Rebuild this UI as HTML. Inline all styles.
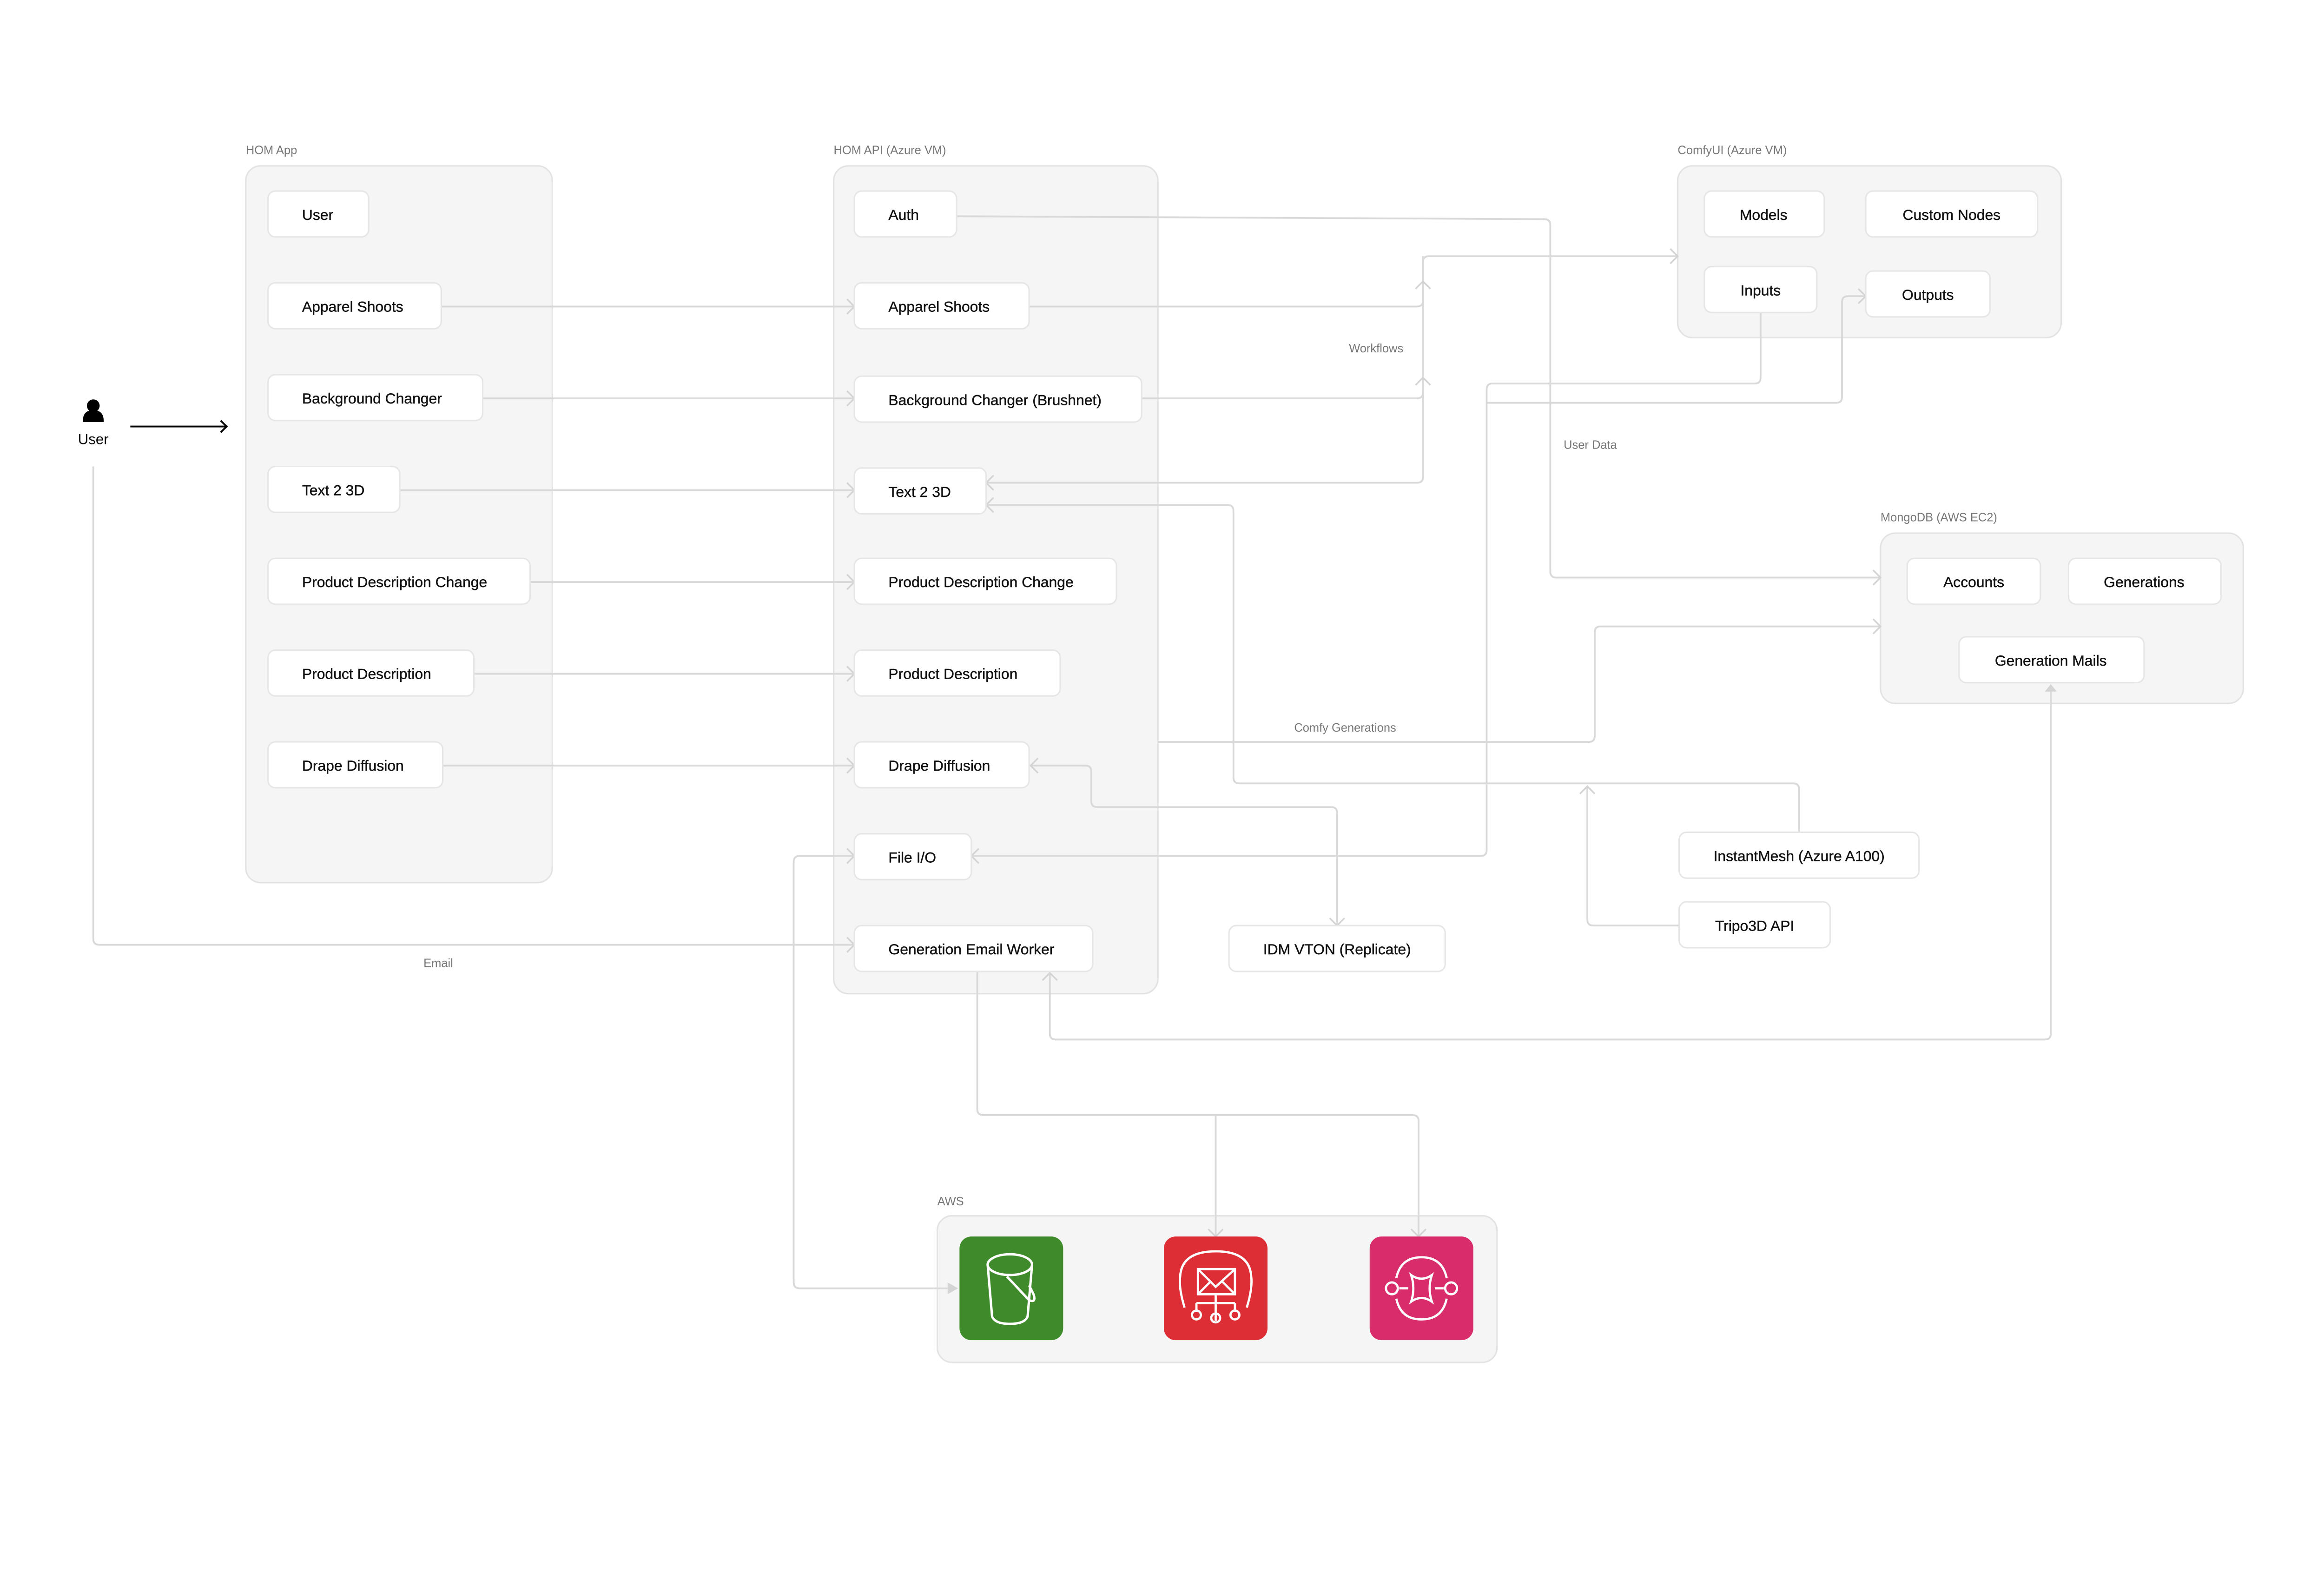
<!DOCTYPE html>
<html><head><meta charset="utf-8"><style>
html,body{margin:0;padding:0;background:#fff;overflow:hidden;width:5266px;height:3412px}
svg{display:block}
text{font-family:"Liberation Sans",sans-serif}
.g{fill:#f5f5f5;stroke:#e3e3e3;stroke-width:1}
.n{fill:#fff;stroke:#e6e6e6;stroke-width:1}
.t{font-size:10px;fill:#111;stroke:#111;stroke-width:0.15}
.l{font-size:8px;fill:#777}
.c{fill:none;stroke:#d9d9d9;stroke-width:1.2;stroke-linejoin:round}
.a{fill:none;stroke:#d4d4d4;stroke-width:1.1}
</style></head><body>
<svg width="5266" height="3412" viewBox="0 0 1653 1071" xmlns="http://www.w3.org/2000/svg">
<rect width="1653" height="1071" fill="#fff"/>

<text class="l" x="166" y="104">HOM App</text>
<rect class="g" x="166" y="112" width="207" height="484" rx="10"/>
<text class="l" x="563" y="104">HOM API (Azure VM)</text>
<rect class="g" x="563" y="112" width="219" height="559" rx="10"/>
<text class="l" x="1133" y="104">ComfyUI (Azure VM)</text>
<rect class="g" x="1133" y="112" width="259" height="116" rx="10"/>
<text class="l" x="1270" y="352">MongoDB (AWS EC2)</text>
<rect class="g" x="1270" y="360" width="245" height="115" rx="10"/>
<text class="l" x="633" y="814">AWS</text>
<rect class="g" x="633" y="821" width="378" height="99" rx="10"/>

<g class="c">
<path d="M298 207H577M326 269H577M270 331H577M358 393H577M320 455H577M299 517H577"/>
<path d="M646 146L1043 148Q1047 148 1047 152V386Q1047 390 1051 390H1270"/>
<path d="M695 207H957Q961 207 961 203V177Q961 173 965 173H1133"/>
<path d="M771 269H957Q961 269 961 265V173"/>
<path d="M961 265V322Q961 326 957 326H666"/>
<path d="M1189 211V255Q1189 259 1185 259H1008Q1004 259 1004 263V574Q1004 578 1000 578H656"/>
<path d="M1004 272H1240Q1244 272 1244 268V204Q1244 200 1248 200H1260"/>
<path d="M666 341H829Q833 341 833 345V525Q833 529 837 529H1211Q1215 529 1215 533V562"/>
<path d="M1134 625H1076Q1072 625 1072 621V531"/>
<path d="M782 501H1073Q1077 501 1077 497V427Q1077 423 1081 423H1270"/>
<path d="M696 517H733Q737 517 737 521V541Q737 545 741 545H899Q903 545 903 549V625"/>
<path d="M577 578H540Q536 578 536 582V866Q536 870 540 870H645"/>
<path d="M63 315V634Q63 638 67 638H577"/>
<path d="M660 656V749Q660 753 664 753H954Q958 753 958 757V835M821 753V835"/>
<path d="M1385 463V698Q1385 702 1381 702H713Q709 702 709 698V657"/>
</g>
<g class="a">
<path d="M572 202L577 207L572 212M572 264L577 269L572 274M572 326L577 331L572 336M572 388L577 393L572 398M572 450L577 455L572 460M572 512L577 517L572 522M572 573L577 578L572 583M572 633L577 638L572 643"/>
<path d="M1265 385L1270 390L1265 395M1265 418L1270 423L1265 428M1128 168L1133 173L1128 178M1255 195L1260 200L1255 205"/>
<path d="M956 195L961 190L966 195M956 260L961 255L966 260"/>
<path d="M671 321L666 326L671 331M671 336L666 341L671 346M661 573L656 578L661 583M701 512L696 517L701 522"/>
<path d="M1067 536L1072 531L1077 536M704 662L709 657L714 662"/>
<path d="M898 620L903 625L908 620M816 830L821 835L826 830M953 830L958 835L963 830"/>
</g>
<path d="M1381 467L1385 462L1389 467Z" fill="#d4d4d4"/>
<path d="M640 866L647 870L640 874Z" fill="#d4d4d4"/>

<text class="l" x="911" y="238">Workflows</text>
<text class="l" x="1056" y="303">User Data</text>
<text class="l" x="874" y="494">Comfy Generations</text>
<text class="l" x="286" y="653">Email</text>

<circle cx="63" cy="274" r="4.3" fill="#000"/>
<path d="M56 284Q56 277 63 277Q70 277 70 284V285H56Z" fill="#000"/>
<text x="63" y="300" text-anchor="middle" font-size="9.8" fill="#000">User</text>
<path d="M88 288H153M149 284L153 288L149 292" fill="none" stroke="#000" stroke-width="1.2"/>

<g>
<rect class="n" x="181" y="129" width="68" height="31" rx="5"/><text class="t" x="204" y="148.5">User</text>
<rect class="n" x="181" y="191" width="117" height="31" rx="5"/><text class="t" x="204" y="210.5">Apparel Shoots</text>
<rect class="n" x="181" y="253" width="145" height="31" rx="5"/><text class="t" x="204" y="272.5">Background Changer</text>
<rect class="n" x="181" y="315" width="89" height="31" rx="5"/><text class="t" x="204" y="334.5">Text 2 3D</text>
<rect class="n" x="181" y="377" width="177" height="31" rx="5"/><text class="t" x="204" y="396.5">Product Description Change</text>
<rect class="n" x="181" y="439" width="139" height="31" rx="5"/><text class="t" x="204" y="458.5">Product Description</text>
<rect class="n" x="181" y="501" width="118" height="31" rx="5"/><text class="t" x="204" y="520.5">Drape Diffusion</text>
</g>
<g>
<rect class="n" x="577" y="129" width="69" height="31" rx="5"/><text class="t" x="600" y="148.5">Auth</text>
<rect class="n" x="577" y="191" width="118" height="31" rx="5"/><text class="t" x="600" y="210.5">Apparel Shoots</text>
<rect class="n" x="577" y="254" width="194" height="31" rx="5"/><text class="t" x="600" y="273.5">Background Changer (Brushnet)</text>
<rect class="n" x="577" y="316" width="89" height="31" rx="5"/><text class="t" x="600" y="335.5">Text 2 3D</text>
<rect class="n" x="577" y="377" width="177" height="31" rx="5"/><text class="t" x="600" y="396.5">Product Description Change</text>
<rect class="n" x="577" y="439" width="139" height="31" rx="5"/><text class="t" x="600" y="458.5">Product Description</text>
<rect class="n" x="577" y="501" width="118" height="31" rx="5"/><text class="t" x="600" y="520.5">Drape Diffusion</text>
<rect class="n" x="577" y="563" width="79" height="31" rx="5"/><text class="t" x="600" y="582.5">File I/O</text>
<rect class="n" x="577" y="625" width="161" height="31" rx="5"/><text class="t" x="600" y="644.5">Generation Email Worker</text>
</g>
<g text-anchor="middle">
<rect class="n" x="1151" y="129" width="81" height="31" rx="5"/><text class="t" x="1191" y="148.5">Models</text>
<rect class="n" x="1260" y="129" width="116" height="31" rx="5"/><text class="t" x="1318" y="148.5">Custom Nodes</text>
<rect class="n" x="1151" y="180" width="76" height="31" rx="5"/><text class="t" x="1189" y="199.5">Inputs</text>
<rect class="n" x="1260" y="183" width="84" height="31" rx="5"/><text class="t" x="1302" y="202.5">Outputs</text>
<rect class="n" x="1288" y="377" width="90" height="31" rx="5"/><text class="t" x="1333" y="396.5">Accounts</text>
<rect class="n" x="1397" y="377" width="103" height="31" rx="5"/><text class="t" x="1448" y="396.5">Generations</text>
<rect class="n" x="1323" y="430" width="125" height="31" rx="5"/><text class="t" x="1385" y="449.5">Generation Mails</text>
<rect class="n" x="1134" y="562" width="162" height="31" rx="5"/><text class="t" x="1215" y="581.5">InstantMesh (Azure A100)</text>
<rect class="n" x="1134" y="609" width="102" height="31" rx="5"/><text class="t" x="1185" y="628.5">Tripo3D API</text>
<rect class="n" x="830" y="625" width="146" height="31" rx="5"/><text class="t" x="903" y="644.5">IDM VTON (Replicate)</text>
</g>

<rect x="648" y="835" width="70" height="70" rx="8" fill="#3f8a2a"/>
<g fill="none" stroke="#fff" stroke-width="1.6">
<ellipse cx="682" cy="854" rx="15" ry="7"/>
<path d="M667 854L670 889Q672 894 682 894Q692 894 694 889L697 854"/>
<path d="M680 862L695 878Q700 880 698 874L695 868"/>
</g>
<rect x="786" y="835" width="70" height="70" rx="8" fill="#dd2e35"/>
<g fill="none" stroke="#fff" stroke-width="1.5">
<path d="M800 883Q796 870 797 862Q798 845 821 845Q844 845 845 862Q846 870 842 883"/>
<rect x="809" y="857" width="25" height="17"/>
<path d="M809 857L821 869L834 857M809 874L818 865M834 874L825 865"/>
<path d="M821 874V892M808 880H834M808 880V886M834 880V886"/>
<circle cx="808" cy="888" r="3"/><circle cx="821" cy="890" r="3"/><circle cx="834" cy="888" r="3"/>
</g>
<rect x="925" y="835" width="70" height="70" rx="8" fill="#d92d6b"/>
<g fill="none" stroke="#fff" stroke-width="1.5">
<path d="M943 863Q946 849 960 849Q974 849 977 863M943 877Q946 891 960 891Q974 891 977 877"/>
<circle cx="940" cy="870" r="4"/><circle cx="980" cy="870" r="4"/>
<path d="M953 861Q960 866 967 861Q964 870 967 879Q960 874 953 879Q956 870 953 861Z"/>
<path d="M945 870H951M969 870H975"/>
</g>
</svg>
</body></html>
